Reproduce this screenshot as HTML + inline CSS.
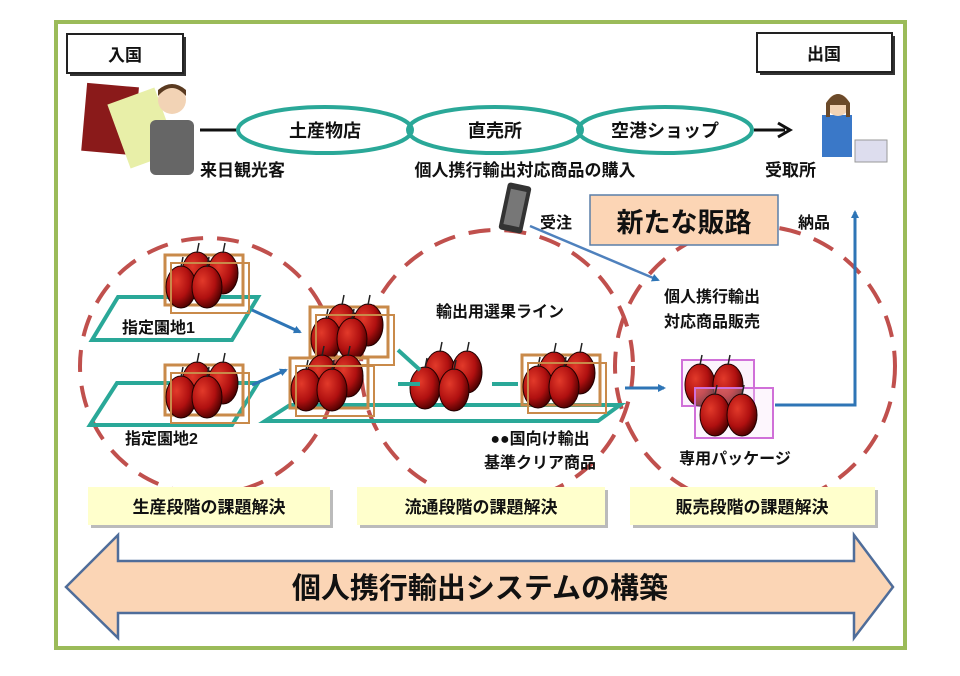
<!DOCTYPE html>
<html><head><meta charset="utf-8"><style>
body{margin:0;background:#fff}
svg text{font-family:"Liberation Sans","Noto Sans CJK JP",sans-serif;font-weight:bold;fill:#111}
</style></head><body>
<svg width="960" height="671" viewBox="0 0 960 671" xmlns="http://www.w3.org/2000/svg">
<defs>
<radialGradient id="ap" cx="0.35" cy="0.35" r="0.7"><stop offset="0" stop-color="#e23a2a"/><stop offset="0.6" stop-color="#b01010"/><stop offset="1" stop-color="#4a0000"/></radialGradient>
<g id="apple"><ellipse cx="0" cy="0" rx="15" ry="21" fill="url(#ap)" stroke="#200" stroke-width="1"/><line x1="0" y1="-20" x2="2" y2="-30" stroke="#222" stroke-width="1.5"/></g>
<g id="crate">
<rect x="0" y="0" width="78" height="50" fill="none" stroke="#c98a4a" stroke-width="3"/>
<use href="#apple" x="32" y="18"/><use href="#apple" x="58" y="18"/>
<use href="#apple" x="16" y="32"/><use href="#apple" x="42" y="32"/>
<rect x="6" y="8" width="78" height="50" fill="none" stroke="#c98a4a" stroke-width="2"/>
</g>
<marker id="bh" markerWidth="8" markerHeight="8" refX="6" refY="4" orient="auto" markerUnits="userSpaceOnUse" viewBox="0 0 8 8"><path d="M0,0 L8,4 L0,8 z" fill="#2e75b6"/></marker>
</defs>
<rect x="56" y="22" width="849" height="626" fill="#fff" stroke="#9bbb59" stroke-width="4"/>
<!-- circles -->
<g fill="none" stroke="#c0504d" stroke-width="4" stroke-dasharray="22 14">
<circle cx="208" cy="366" r="128"/>
<circle cx="497" cy="366" r="136"/>
<circle cx="755" cy="366" r="140"/>
</g>
<!-- top boxes -->
<rect x="70" y="37" width="116" height="39" fill="#333"/>
<rect x="67" y="34" width="116" height="39" fill="#fff" stroke="#222" stroke-width="2"/>
<text x="125" y="61" font-size="17" text-anchor="middle">入国</text>
<rect x="760" y="36" width="135" height="39" fill="#333"/>
<rect x="757" y="33" width="135" height="39" fill="#fff" stroke="#222" stroke-width="2"/>
<text x="824" y="60" font-size="17" text-anchor="middle">出国</text>
<!-- passport person -->
<rect x="84" y="85" width="52" height="68" fill="#8a1a1a" transform="rotate(5 110 120)"/>
<rect x="118" y="95" width="50" height="68" fill="#e8efa8" transform="rotate(-20 140 130)"/>
<rect x="150" y="120" width="44" height="55" rx="6" fill="#666"/>
<circle cx="172" cy="100" r="14" fill="#f2d3b5"/><path d="M158 96 q14 -16 28 0 l0 -6 q-14 -12 -28 0z" fill="#5a3a20"/>
<!-- seller -->
<rect x="822" y="115" width="30" height="42" fill="#3a78c8"/><circle cx="838" cy="105" r="11" fill="#f2d3b5"/><path d="M826 103 q12 -18 24 0 v14 h-4 v-12 h-16 v12 h-4z" fill="#6b4a2a"/>
<rect x="855" y="140" width="32" height="22" fill="#dde" stroke="#999"/>
<!-- ellipses -->
<line x1="200" y1="130" x2="238" y2="130" stroke="#111" stroke-width="3"/>
<ellipse cx="325" cy="130" rx="87" ry="23" fill="#fff" stroke="#2aa898" stroke-width="4"/>
<ellipse cx="495" cy="130" rx="87" ry="23" fill="none" stroke="#2aa898" stroke-width="4"/>
<ellipse cx="665" cy="130" rx="87" ry="23" fill="none" stroke="#2aa898" stroke-width="4"/>
<text x="325" y="137" font-size="18" text-anchor="middle">土産物店</text>
<text x="495" y="137" font-size="18" text-anchor="middle">直売所</text>
<text x="665" y="137" font-size="18" text-anchor="middle">空港ショップ</text>
<line x1="754" y1="130" x2="785" y2="130" stroke="#111" stroke-width="3"/><path d="M778 123 L790 130 L778 137" fill="none" stroke="#111" stroke-width="3"/>
<text x="200" y="176" font-size="17">来日観光客</text>
<text x="525" y="176" font-size="17" text-anchor="middle">個人携行輸出対応商品の購入</text>
<text x="765" y="176" font-size="17">受取所</text>
<!-- phone -->
<rect x="503" y="184" width="24" height="48" rx="3" fill="#333" transform="rotate(12 515 208)"/>
<rect x="507" y="190" width="16" height="36" fill="#777" transform="rotate(12 515 208)"/>
<text x="540" y="228" font-size="16">受注</text>
<rect x="590" y="195" width="188" height="50" fill="#fcd5b5" stroke="#5a7fa8" stroke-width="1.5"/>
<text x="684" y="232" font-size="27" text-anchor="middle">新たな販路</text>
<text x="798" y="228" font-size="16">納品</text>
<line x1="530" y1="226" x2="658" y2="280" stroke="#4f81bd" stroke-width="2.5" marker-end="url(#bh)"/>
<!-- up arrow -->
<path d="M775 405 H855 V212" fill="none" stroke="#2e75b6" stroke-width="3" marker-end="url(#bh)"/>
<!-- fields -->
<path d="M92 340 L118 297 L258 297 L232 340 Z" fill="none" stroke="#2aa898" stroke-width="4"/>
<path d="M90 425 L117 383 L258 383 L232 425 Z" fill="none" stroke="#2aa898" stroke-width="4"/>
<path d="M265 421 L290 405 L620 405 L598 421 Z" fill="none" stroke="#2aa898" stroke-width="4"/>
<use href="#crate" x="165" y="255"/>
<use href="#crate" x="165" y="365"/>
<use href="#crate" x="310" y="307"/>
<use href="#crate" x="290" y="358"/>
<g><use href="#apple" x="440" y="372"/><use href="#apple" x="467" y="372"/><use href="#apple" x="425" y="388"/><use href="#apple" x="454" y="390"/></g>
<use href="#crate" x="522" y="355"/>
<!-- package -->
<g><rect x="682" y="360" width="72" height="46" fill="#f8e0f8" fill-opacity="0.4" stroke="#d070d8" stroke-width="2"/>
<use href="#apple" x="700" y="385"/><use href="#apple" x="728" y="385"/>
<rect x="695" y="388" width="78" height="50" fill="#f8e0f8" fill-opacity="0.3" stroke="#d070d8" stroke-width="2"/>
<use href="#apple" x="715" y="415"/><use href="#apple" x="742" y="415"/></g>
<!-- arrows -->
<line x1="252" y1="310" x2="300" y2="332" stroke="#2e75b6" stroke-width="3" marker-end="url(#bh)"/>
<line x1="252" y1="385" x2="286" y2="370" stroke="#2e75b6" stroke-width="3" marker-end="url(#bh)"/>
<line x1="625" y1="388" x2="664" y2="388" stroke="#2e75b6" stroke-width="3" marker-end="url(#bh)"/>
<g stroke="#2aa898" stroke-width="4" fill="none">
<line x1="398" y1="350" x2="420" y2="370"/><line x1="398" y1="384" x2="420" y2="384"/><line x1="492" y1="384" x2="518" y2="384"/>
</g>
<text x="122" y="333" font-size="16">指定園地1</text>
<text x="125" y="444" font-size="16">指定園地2</text>
<text x="500" y="317" font-size="16" text-anchor="middle">輸出用選果ライン</text>
<text x="540" y="444" font-size="16" text-anchor="middle">●●国向け輸出</text>
<text x="540" y="468" font-size="16" text-anchor="middle">基準クリア商品</text>
<text x="712" y="302" font-size="16" text-anchor="middle">個人携行輸出</text>
<text x="712" y="327" font-size="16" text-anchor="middle">対応商品販売</text>
<text x="735" y="464" font-size="16" text-anchor="middle">専用パッケージ</text>
<!-- stage labels -->
<rect x="91" y="490" width="242" height="38" fill="#bbb"/><rect x="88" y="487" width="242" height="38" fill="#ffffcc"/>
<rect x="360" y="490" width="248" height="38" fill="#bbb"/><rect x="357" y="487" width="248" height="38" fill="#ffffcc"/>
<rect x="633" y="490" width="245" height="38" fill="#bbb"/><rect x="630" y="487" width="245" height="38" fill="#ffffcc"/>
<text x="209" y="513" font-size="17" text-anchor="middle">生産段階の課題解決</text>
<text x="481" y="513" font-size="17" text-anchor="middle">流通段階の課題解決</text>
<text x="752" y="513" font-size="17" text-anchor="middle">販売段階の課題解決</text>
<!-- big arrow -->
<path d="M66 587 L118 535 L118 561 L854 561 L854 535 L893 587 L854 638 L854 613 L118 613 L118 638 Z" fill="#fbd5b5" stroke="#4f6d9a" stroke-width="2.5"/>
<text x="480" y="598" font-size="29" text-anchor="middle">個人携行輸出システムの構築</text>
</svg>
</body></html>
